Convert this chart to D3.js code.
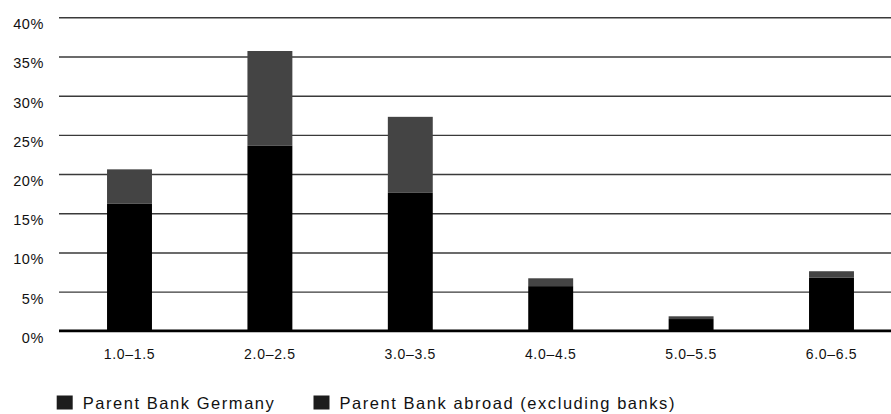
<!DOCTYPE html>
<html>
<head>
<meta charset="utf-8">
<script src="https://cdn.jsdelivr.net/npm/d3@7"></script>
<style>
  html, body { margin: 0; padding: 0; background: #fff; }
  svg { display: block; font-family: "Liberation Sans", Arial, sans-serif; }
</style>
</head>
<body>
<svg id="chart" width="891" height="414"></svg>
<script>
// Maturity buckets (years) and shares of each parent-bank group
const categories = ["1.0–1.5", "2.0–2.5", "3.0–3.5", "4.0–4.5", "5.0–5.5", "6.0–6.5"];
const parentGermany = [16.2, 23.6, 17.6, 5.7, 1.5, 6.8];
const parentAbroad  = [4.4, 12.1, 9.7, 1.0, 0.35, 0.8];
const seriesNames = ["Parent Bank Germany", "Parent Bank abroad (excluding banks)"];
const yTicks = [0, 5, 10, 15, 20, 25, 30, 35, 40];

const barColors = ["#000000", "#444444"];
const swatchColors = ["#1c1c1c", "#1c1c1c"];
const textColor = "#111111";

const svg = d3.select("#chart");

const x = d3.scaleBand()
  .domain(categories)
  .range([59.3, 901.7])
  .paddingInner(0.68)
  .paddingOuter(0.34);

const y = d3.scaleLinear()
  .domain([0, 40])
  .range([330.8, 17.3]);

// Horizontal gridlines
const yAxis = d3.axisLeft(y)
  .tickValues(yTicks.filter(d => d > 0))
  .tickSize(-(891 - 59))
  .tickFormat("");
const gGrid = svg.append("g")
  .attr("transform", "translate(59,0)")
  .call(yAxis);
gGrid.select(".domain").remove();
gGrid.selectAll(".tick line")
  .attr("stroke", "#3a3a3a")
  .attr("stroke-width", 1.4);

// Percentage labels, set just below each gridline
svg.append("g").selectAll("text")
  .data(yTicks)
  .join("text")
  .attr("x", 44)
  .attr("y", d => y(d) + 12)
  .attr("text-anchor", "end")
  .attr("font-size", 14.5)
  .attr("letter-spacing", 0.6)
  .attr("fill", textColor)
  .text(d => d + "%");

// Stacked bars
const rows = categories.map((c, i) => ({ cat: c, Germany: parentGermany[i], Abroad: parentAbroad[i] }));
const stacked = d3.stack().keys(["Germany", "Abroad"])(rows);

svg.append("g").selectAll("g")
  .data(stacked)
  .join("g")
  .attr("fill", (d, i) => barColors[i])
  .selectAll("rect")
  .data(d => d)
  .join("rect")
  .attr("x", d => x(d.data.cat))
  .attr("width", x.bandwidth())
  .attr("y", d => y(d[1]))
  .attr("height", d => y(d[0]) - y(d[1]));

// Baseline
svg.append("line")
  .attr("x1", 59).attr("x2", 891)
  .attr("y1", y(0)).attr("y2", y(0))
  .attr("stroke", "#000")
  .attr("stroke-width", 2.8);

// Category labels under each bar
svg.append("g").selectAll("text")
  .data(categories)
  .join("text")
  .attr("x", d => x(d) + x.bandwidth() / 2)
  .attr("y", 359.3)
  .attr("text-anchor", "middle")
  .attr("font-size", 14)
  .attr("letter-spacing", 0.7)
  .attr("fill", textColor)
  .text(d => d);

// Legend
const legendX = [56.7, 313.5];
const legend = svg.append("g").selectAll("g")
  .data(seriesNames)
  .join("g")
  .attr("transform", (d, i) => `translate(${legendX[i]},0)`);
legend.append("rect")
  .attr("x", 0).attr("y", 395.5)
  .attr("width", 16).attr("height", 14)
  .attr("fill", (d, i) => swatchColors[i]);
legend.append("text")
  .attr("x", 26).attr("y", 409.3)
  .attr("font-size", 16.5)
  .attr("letter-spacing", 1.55)
  .attr("fill", textColor)
  .text(d => d);
</script>
</body>
</html>
